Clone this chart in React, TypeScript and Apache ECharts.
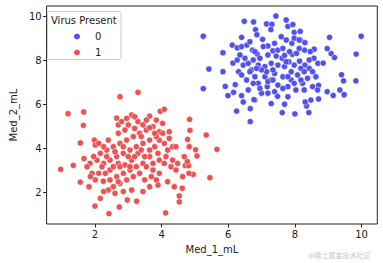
import React, { useEffect, useRef } from "react";
import * as echarts from "echarts";

const blueX = [5.25, 9.99, 5.42, 5.25, 5.84, 5.84, 5.91, 5.99, 6.12, 6.16, 6.25, 6.40, 6.48, 6.66, 6.76, 6.82, 6.86, 7.15, 7.31, 7.28, 7.43, 7.74, 7.79, 7.94, 7.98, 8.16, 8.16, 8.30, 8.58, 8.69, 8.85, 8.97, 9.04, 9.09, 9.19, 8.97, 9.15, 9.35, 9.48, 9.40, 9.46, 9.83, 9.84, 8.71, 8.71, 8.48, 8.42, 8.35, 8.31, 8.00, 7.69, 7.62, 7.48, 7.29, 7.27, 7.17, 6.80, 6.66, 6.77, 6.45, 6.40, 6.21, 6.14, 6.27, 6.35, 6.27, 6.40, 6.56, 6.73, 6.87, 7.03, 7.19, 7.34, 7.44, 7.62, 7.82, 7.92, 8.05, 8.14, 8.30, 8.43, 8.57, 8.46, 8.29, 8.13, 7.91, 7.74, 7.59, 7.49, 7.29, 7.10, 6.90, 6.70, 6.55, 6.60, 6.90, 7.10, 7.39, 7.64, 7.89, 8.08, 8.23, 8.38, 8.53, 8.28, 8.03, 7.79, 7.49, 7.19, 7.00, 6.80, 6.65, 6.45, 6.31, 6.40, 6.50, 6.75, 6.95, 7.19, 7.39, 7.64, 7.84, 7.98, 8.18, 7.89, 7.69, 7.49, 7.34, 7.15, 7.00, 6.85, 6.60, 6.75, 6.95, 7.19, 7.39, 7.64, 7.79, 7.98, 8.18, 8.28, 8.53, 8.63, 8.68, 7.05, 7.69, 7.98, 6.65, 6.80, 8.13, 8.43, 7.34, 7.74, 7.79];
const blueY = [9.11, 9.11, 7.62, 6.73, 7.50, 8.36, 6.83, 6.41, 8.71, 6.56, 5.71, 9.06, 9.79, 5.23, 9.76, 9.41, 9.18, 9.67, 9.65, 9.41, 10.03, 9.85, 9.56, 9.64, 9.29, 9.33, 8.94, 8.82, 8.52, 7.88, 7.89, 8.55, 9.06, 8.32, 8.14, 6.59, 6.42, 6.67, 6.45, 7.36, 7.08, 7.08, 8.30, 6.88, 6.26, 6.21, 5.64, 5.94, 6.12, 5.58, 6.02, 5.64, 6.38, 6.05, 7.12, 6.82, 6.21, 5.82, 6.23, 6.12, 6.41, 6.91, 7.89, 8.03, 8.26, 8.58, 8.64, 8.71, 8.48, 8.30, 8.97, 8.67, 8.45, 8.21, 8.11, 7.95, 8.29, 8.33, 7.98, 7.80, 7.65, 8.11, 8.41, 8.48, 8.56, 8.79, 8.94, 9.09, 8.48, 7.88, 7.73, 7.80, 7.58, 7.12, 6.67, 6.97, 7.27, 7.42, 7.27, 7.12, 7.35, 6.97, 7.20, 6.82, 6.67, 6.67, 6.82, 6.89, 7.05, 6.52, 7.27, 7.50, 7.80, 7.50, 7.35, 8.11, 8.03, 8.11, 8.26, 8.79, 8.56, 8.41, 7.80, 7.65, 7.50, 7.73, 7.80, 7.58, 7.50, 7.58, 7.65, 7.88, 6.97, 6.74, 6.52, 6.59, 6.74, 6.36, 6.97, 7.12, 7.50, 7.50, 7.27, 6.67, 8.64, 8.24, 9.02, 8.86, 8.41, 8.94, 8.03, 7.12, 7.95, 7.27];

const redX = [0.97, 1.19, 1.35, 1.56, 1.56, 1.66, 1.65, 1.67, 1.82, 1.85, 1.98, 2.01, 2.00, 2.16, 2.25, 2.42, 2.73, 2.75, 2.97, 3.25, 3.29, 3.10, 2.65, 3.96, 4.08, 4.12, 4.53, 4.53, 4.84, 4.85, 4.78, 4.83, 5.02, 5.06, 4.95, 5.34, 5.45, 5.66, 4.62, 4.71, 4.81, 4.77, 4.82, 4.63, 4.43, 4.33, 4.18, 4.08, 3.93, 3.79, 3.64, 3.44, 3.24, 3.05, 2.85, 2.65, 2.45, 2.26, 2.06, 1.96, 2.16, 2.35, 2.55, 2.75, 2.95, 3.15, 3.34, 3.54, 3.74, 3.93, 3.84, 3.64, 3.44, 3.24, 3.05, 2.85, 2.65, 2.45, 2.26, 2.11, 2.40, 2.70, 2.90, 2.70, 2.80, 3.00, 3.19, 3.29, 3.44, 3.64, 3.79, 4.03, 4.23, 4.33, 4.13, 3.93, 3.74, 3.54, 3.34, 3.15, 2.95, 2.75, 2.55, 2.40, 2.60, 2.85, 3.10, 3.44, 3.64, 3.89, 4.18, 4.38, 3.93, 3.74, 3.49, 3.29, 3.10, 2.90, 2.70, 2.55, 2.31, 2.11, 1.91, 1.76, 1.86, 2.01, 2.26, 2.45, 2.70, 3.00, 3.19, 3.39, 3.64, 3.89, 4.08, 4.28, 4.48, 4.68, 4.43, 4.23, 4.03, 3.84, 3.64, 3.54, 3.19, 2.95, 3.39, 2.85, 2.60, 2.35, 2.21, 2.75, 3.05, 3.49, 3.69, 3.84];
const redY = [3.06, 5.59, 3.24, 2.48, 4.26, 5.67, 5.06, 3.55, 2.27, 3.33, 4.39, 4.17, 1.39, 1.74, 2.52, 1.05, 1.35, 6.36, 1.67, 1.61, 6.56, 5.53, 5.39, 5.70, 5.79, 1.08, 1.85, 1.58, 5.33, 4.83, 4.42, 4.09, 3.95, 3.67, 2.83, 4.62, 2.68, 3.97, 2.20, 3.23, 3.23, 3.42, 2.88, 2.73, 3.03, 3.48, 3.94, 4.24, 4.39, 4.09, 3.64, 3.33, 3.18, 3.03, 2.88, 2.73, 3.03, 3.33, 3.48, 3.64, 3.79, 3.94, 4.09, 4.24, 4.39, 4.55, 4.70, 4.85, 5.00, 4.77, 4.55, 4.39, 4.24, 4.09, 3.94, 3.79, 3.64, 3.48, 4.09, 4.24, 4.39, 4.70, 4.85, 5.08, 5.23, 5.08, 4.92, 5.23, 5.08, 4.95, 4.70, 4.70, 4.47, 4.09, 3.64, 3.48, 3.33, 3.18, 2.88, 2.73, 2.58, 2.42, 2.27, 2.12, 1.97, 2.05, 2.12, 2.05, 2.27, 2.35, 2.50, 2.27, 2.88, 3.03, 3.64, 3.79, 3.48, 3.26, 3.33, 3.18, 2.88, 2.88, 2.88, 3.18, 2.73, 2.58, 2.05, 2.58, 2.50, 3.64, 3.64, 3.94, 3.94, 3.79, 3.33, 3.18, 3.33, 3.64, 4.09, 4.77, 5.15, 5.30, 5.48, 5.30, 5.45, 5.38, 4.55, 4.09, 3.86, 3.64, 3.18, 3.18, 3.18, 2.58, 2.73, 2.58];

const categories = ["0", "1"];
const xTicks = [2, 4, 6, 8, 10];
const yTicks = [2, 4, 6, 8, 10];

const FONT = "DejaVu Sans";

export default function App() {
  const ref = useRef<HTMLDivElement>(null);
  useEffect(() => {
    document.body.style.margin = "0";
    if (!ref.current) return;
    const chart = echarts.init(ref.current, null, { renderer: "svg" });
    const pts = (xs: number[], ys: number[]) => xs.map((x, i) => [x, ys[i]]);
    chart.setOption({
      animation: false,
      grid: {
        left: 42.5, right: 5.7, top: 6, bottom: 39,
        show: true, borderColor: "#222", borderWidth: 1, backgroundColor: "#fff",
      },
      xAxis: {
        type: "value", min: 0.548, max: 10.474,
        name: "Med_1_mL", nameLocation: "middle", nameGap: 20,
        nameTextStyle: { fontFamily: FONT, fontSize: 10, color: "#222" },
        splitLine: { show: false },
        axisLine: { show: false },
        axisTick: { show: true, length: 3.5, customValues: xTicks, lineStyle: { color: "#222" } },
        axisLabel: { customValues: xTicks, fontFamily: FONT, fontSize: 10, color: "#222", margin: 5 },
      },
      yAxis: {
        type: "value", min: 0.577, max: 10.486,
        name: "Med_2_mL", nameLocation: "middle", nameGap: 24, nameRotate: 90,
        nameTextStyle: { fontFamily: FONT, fontSize: 10, color: "#222" },
        splitLine: { show: false },
        axisLine: { show: false },
        axisTick: { show: true, length: 3.5, customValues: yTicks, lineStyle: { color: "#222" } },
        axisLabel: { customValues: yTicks, fontFamily: FONT, fontSize: 10, color: "#222", margin: 5 },
      },
      legend: {
        orient: "vertical", left: 72, top: 31.5, padding: 0, itemWidth: 8, itemHeight: 8, itemGap: 6,
        icon: "circle", z: 10,
        data: categories,
        textStyle: { fontFamily: FONT, fontSize: 10, color: "#222", padding: [0, 0, 0, 9] },
      },
      series: [
        {
          name: categories[0], type: "scatter", data: pts(blueX, blueY), symbolSize: 6.2,
          itemStyle: { color: "#5151ee", borderColor: "#fff", borderWidth: 0.5, opacity: 1 },
        },
        {
          name: categories[1], type: "scatter", data: pts(redX, redY), symbolSize: 6.2,
          itemStyle: { color: "#ee5151", borderColor: "#fff", borderWidth: 0.5, opacity: 1 },
        },
      ],
      graphic: [
        {
          type: "rect", z: 5, shape: { x: 47.5, y: 11.5, width: 73.5, height: 48, r: 2 },
          style: { fill: "rgba(255,255,255,0.8)", stroke: "#ccc", lineWidth: 1 },
        },
        {
          type: "text", x: 51, y: 15.5, z: 10,
          style: { text: "Virus Present", fontFamily: FONT, fontSize: 10, fill: "#222" },
        },
        {
          type: "text", x: 308, y: 251, z: 10,
          style: { text: "@稀土掘金技术社区", fontFamily: "Noto Sans CJK SC", fontSize: 7, fill: "#c8c8c8" },
        },
      ],
    });
    return () => chart.dispose();
  }, []);
  return <div ref={ref} style={{ width: 383, height: 263 }} />;
}
